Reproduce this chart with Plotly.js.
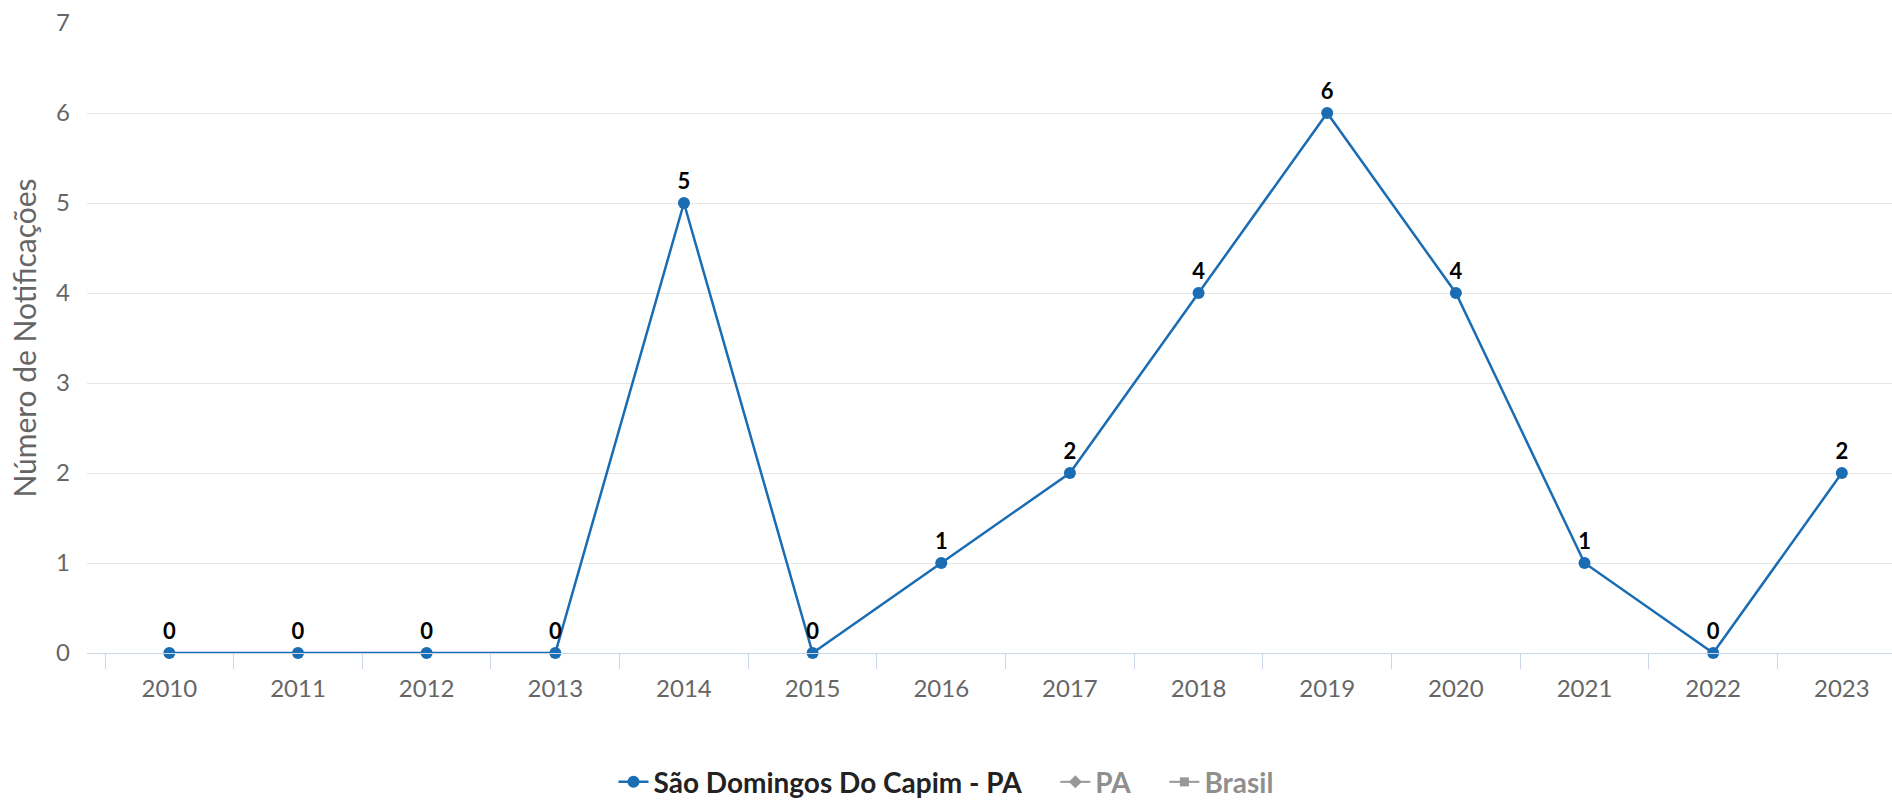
<!DOCTYPE html>
<html>
<head>
<meta charset="utf-8">
<script src="https://cdn.plot.ly/plotly-3.0.1.min.js"></script>
<style>html,body{margin:0;padding:0;background:#fff}#chart{width:1892px;height:808px}</style>
</head>
<body>
<div id="chart"></div>
<script>
const years = ["2010","2011","2012","2013","2014","2015","2016","2017","2018","2019","2020","2021","2022","2023"];
const saoDomingos = [0,0,0,0,5,0,1,2,4,6,4,1,0,2];
// PA and Brasil series are hidden in the reference (legend only); values not shown
const paValues = [null,null,null,null,null,null,null,null,null,null,null,null,null,null];
const brasilValues = [null,null,null,null,null,null,null,null,null,null,null,null,null,null];
const seriesNames = ["São Domingos Do Capim - PA","PA","Brasil"];
const yTitle = "Número de Notificações";

const FONT = "Lato, 'Noto Sans', sans-serif";
const GAP = "\u00A0\u00A0\u00A0\u00A0";
const traces = [
  {
    x: years, y: saoDomingos, type: "scatter", mode: "lines+markers+text",
    name: "<b>" + seriesNames[0] + "</b>" + GAP,
    line: {color: "#1a6db3", width: 2.5},
    marker: {color: "#1a6db3", size: 12, symbol: "circle"},
    texttemplate: "<b>%{y}</b>", textposition: "top center",
    textfont: {family: FONT, size: 22, color: "#000"},
    cliponaxis: false, hoverinfo: "x+y"
  },
  {
    x: years, y: paValues, type: "scatter", mode: "lines+markers",
    name: "<b>" + seriesNames[1] + "</b>" + GAP, visible: "legendonly",
    line: {color: "#333", width: 2}, marker: {color: "#333", size: 10, symbol: "diamond"}
  },
  {
    x: years, y: brasilValues, type: "scatter", mode: "lines+markers",
    name: "<b>" + seriesNames[2] + "</b>", visible: "legendonly",
    line: {color: "#333", width: 2}, marker: {color: "#333", size: 9, symbol: "square"}
  }
];

const layout = {
  width: 1892, height: 808,
  margin: {l: 87, r: 0, t: 23, b: 155, autoexpand: false},
  paper_bgcolor: "#fff", plot_bgcolor: "#fff",
  font: {family: FONT, color: "#666"},
  showlegend: true,
  legend: {orientation: "h", xref: "container", yref: "container", x: 0.5, xanchor: "center",
           y: 0.032, yanchor: "middle",
           font: {family: FONT, size: 28, color: "#222"}, itemwidth: 30},
  xaxis: {
    type: "category", categoryorder: "array", categoryarray: years,
    range: [-0.64, 13.39], showgrid: false, zeroline: false,
    showline: true, linecolor: "#ccd6eb", linewidth: 1,
    ticks: "outside", tickson: "boundaries", ticklen: 15, tickcolor: "#ccd6eb", tickwidth: 1,
    tickfont: {family: FONT, size: 24, color: "#666"}, ticklabelstandoff: 14
  },
  yaxis: {
    range: [0, 7], dtick: 1, tick0: 0, showgrid: true, gridcolor: "#e6e6e6", gridwidth: 1,
    zeroline: false, showline: false, ticks: "",
    tickfont: {family: FONT, size: 24, color: "#666"}, ticklabelstandoff: 16,
    title: {text: yTitle, font: {family: FONT, size: 30, color: "#666"}, standoff: 10}
  }
};

Plotly.newPlot("chart", traces, layout, {displayModeBar: false});
</script>
</body>
</html>
